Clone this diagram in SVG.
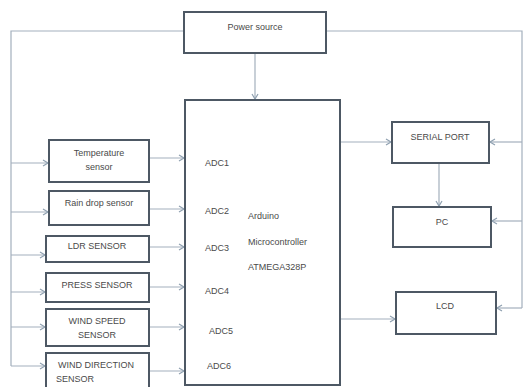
<svg xmlns="http://www.w3.org/2000/svg" width="529" height="387" viewBox="0 0 529 387">
<style>
.box{fill:#fff;stroke:#4d5864;stroke-width:2}
.wire{fill:none;stroke:#a3b0bd;stroke-width:1.2}
text{font-family:"Liberation Sans",Arial,sans-serif;font-size:9px;fill:#4a4a4a}
.c{text-anchor:middle}
</style>
<defs>
<marker id="ah" markerWidth="8" markerHeight="8" refX="6" refY="4" orient="auto" markerUnits="userSpaceOnUse">
<path d="M1,1 L6,4 L1,7" fill="none" stroke="#8fa0b0" stroke-width="1.2"/>
</marker>
</defs>
<rect width="529" height="387" fill="#fff"/>
<g id="connectors" class="wire">
<path d="M184,31 H11 V366"/>
<path d="M326,31 H522 V308"/>
<path d="M255,53 V99" marker-end="url(#ah)"/>
<path d="M11,163 H48" marker-end="url(#ah)"/>
<path d="M11,212 H48" marker-end="url(#ah)"/>
<path d="M11,255 H45" marker-end="url(#ah)"/>
<path d="M11,292 H45" marker-end="url(#ah)"/>
<path d="M11,327 H45" marker-end="url(#ah)"/>
<path d="M11,366 H45" marker-end="url(#ah)"/>
<path d="M149,158 H184" marker-end="url(#ah)"/>
<path d="M149,209 H184" marker-end="url(#ah)"/>
<path d="M149,247 H184" marker-end="url(#ah)"/>
<path d="M149,287 H184" marker-end="url(#ah)"/>
<path d="M149,327 H184" marker-end="url(#ah)"/>
<path d="M149,371 H184" marker-end="url(#ah)"/>
<path d="M340,142 H391" marker-end="url(#ah)"/>
<path d="M522,142 H490" marker-end="url(#ah)"/>
<path d="M439,163 V206" marker-end="url(#ah)"/>
<path d="M522,221 H492" marker-end="url(#ah)"/>
<path d="M340,319 H395" marker-end="url(#ah)"/>
<path d="M522,308 H497" marker-end="url(#ah)"/>
</g>
<g id="power">
<rect class="box" x="184" y="12" width="142" height="41"/>
<text class="c" x="255" y="30">Power source</text>
</g>
<g id="micro">
<rect class="box" x="185" y="100" width="155" height="285"/>
<text x="205" y="166">ADC1</text>
<text x="205" y="214">ADC2</text>
<text x="205" y="251">ADC3</text>
<text x="205" y="294">ADC4</text>
<text x="209" y="334">ADC5</text>
<text x="207" y="369">ADC6</text>
<text x="248" y="219">Arduino</text>
<text x="248" y="245">Microcontroller</text>
<text x="248" y="270">ATMEGA328P</text>
</g>
<g id="temp">
<rect class="box" x="49" y="140" width="100" height="42"/>
<text class="c" x="99" y="156">Temperature</text>
<text class="c" x="99" y="170">sensor</text>
</g>
<g id="rain">
<rect class="box" x="49" y="191" width="100" height="34"/>
<text class="c" x="99" y="206">Rain drop sensor</text>
</g>
<g id="ldr">
<rect class="box" x="46" y="236" width="103" height="26"/>
<text class="c" x="97" y="249">LDR SENSOR</text>
</g>
<g id="press">
<rect class="box" x="46" y="273" width="103" height="29"/>
<text class="c" x="97" y="288">PRESS SENSOR</text>
</g>
<g id="windspeed">
<rect class="box" x="46" y="309" width="103" height="37"/>
<text class="c" x="97" y="324">WIND SPEED</text>
<text class="c" x="97" y="338">SENSOR</text>
</g>
<g id="winddir">
<rect class="box" x="46" y="353" width="103" height="40"/>
<text x="58" y="368">WIND DIRECTION</text>
<text x="56" y="382">SENSOR</text>
</g>
<g id="serial">
<rect class="box" x="392" y="122" width="97" height="41"/>
<text class="c" x="440" y="140">SERIAL PORT</text>
</g>
<g id="pc">
<rect class="box" x="393" y="207" width="98" height="40"/>
<text class="c" x="442" y="225">PC</text>
</g>
<g id="lcd">
<rect class="box" x="396" y="292" width="100" height="42"/>
<text class="c" x="445" y="309">LCD</text>
</g>
</svg>
